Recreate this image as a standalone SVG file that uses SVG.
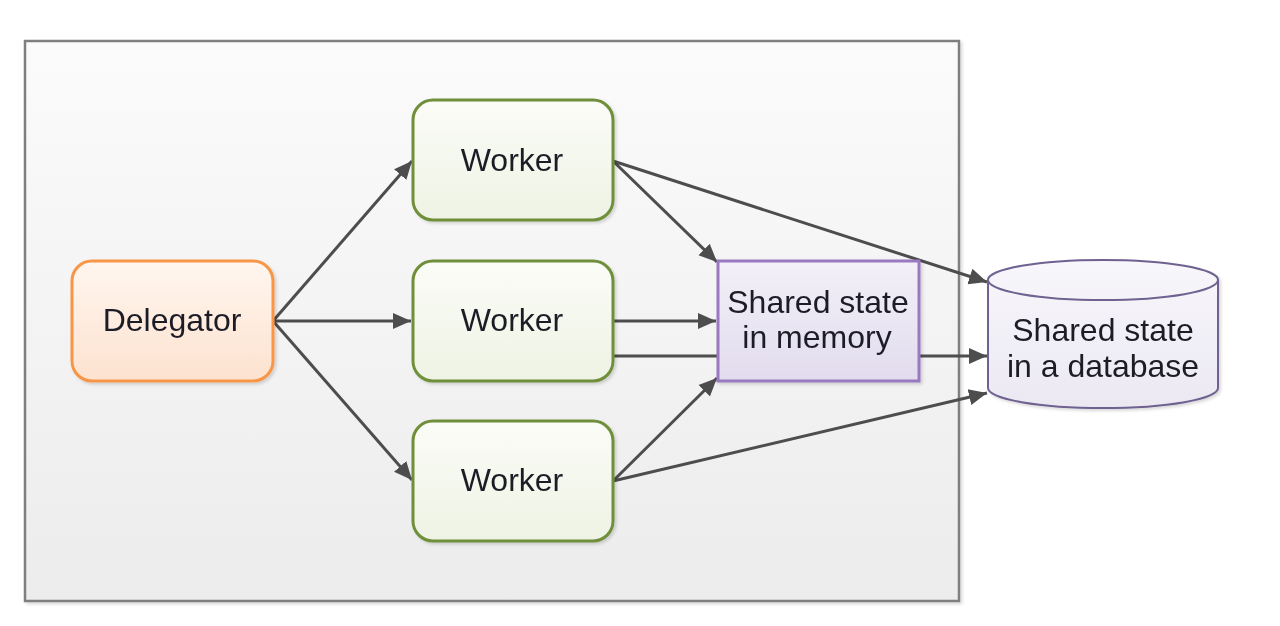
<svg xmlns="http://www.w3.org/2000/svg" width="1280" height="626" viewBox="0 0 1280 626">
<defs>
<linearGradient id="gBg" x1="0" y1="0" x2="0" y2="1"><stop offset="0" stop-color="#fbfbfb"/><stop offset="1" stop-color="#ececec"/></linearGradient>
<linearGradient id="gOr" x1="0" y1="0" x2="0" y2="1"><stop offset="0" stop-color="#fff6ef"/><stop offset="1" stop-color="#fde2cf"/></linearGradient>
<linearGradient id="gGr" x1="0" y1="0" x2="0" y2="1"><stop offset="0" stop-color="#fbfcf7"/><stop offset="1" stop-color="#eef3e4"/></linearGradient>
<linearGradient id="gPu" x1="0" y1="0" x2="0" y2="1"><stop offset="0" stop-color="#f3f0f8"/><stop offset="1" stop-color="#e2dcee"/></linearGradient>
<linearGradient id="gDb" x1="0" y1="0" x2="0" y2="1"><stop offset="0" stop-color="#f8f7fb"/><stop offset="1" stop-color="#ebe8f2"/></linearGradient>
<filter id="sh" x="-10%" y="-10%" width="130%" height="130%"><feDropShadow dx="2" dy="2" stdDeviation="1.5" flood-color="#000" flood-opacity="0.15"/></filter>
<marker id="ah" viewBox="0 0 10 10" refX="10" refY="5" markerWidth="6" markerHeight="6" markerUnits="strokeWidth" orient="auto"><path d="M0,0.5 L10,5 L0,9.5 z" fill="#4d4d4d"/></marker>
</defs>
<style>
.t{font-family:"Liberation Sans",Arial,sans-serif;font-size:32px;fill:#1e1e28;text-anchor:middle}
.c{stroke:#4d4d4d;stroke-width:3;fill:none}
.a{marker-end:url(#ah)}
.wk{fill:url(#gGr);stroke:#6f8f3a;stroke-width:3}
</style>
<rect id="frame" x="25" y="41" width="934" height="560" fill="url(#gBg)" stroke="#7f7f7f" stroke-width="2.5" filter="url(#sh)"/>
<g id="connectors">
<line class="c a" x1="273" y1="321" x2="412" y2="161"/>
<line class="c a" x1="273" y1="321" x2="411" y2="321"/>
<line class="c a" x1="273" y1="321" x2="412" y2="480"/>
<line class="c a" x1="613" y1="161" x2="717" y2="262"/>
<line class="c a" x1="613" y1="161" x2="987" y2="282"/>
<line class="c a" x1="613" y1="321" x2="716" y2="321"/>
<line class="c a" x1="613" y1="356" x2="987" y2="356"/>
<line class="c a" x1="613" y1="481" x2="717" y2="378"/>
<line class="c a" x1="613" y1="481" x2="987" y2="393"/>
</g>
<g id="delegator" filter="url(#sh)">
<rect x="72" y="261" width="201" height="120" rx="20" fill="url(#gOr)" stroke="#f79646" stroke-width="3"/>
<text class="t" x="172" y="331">Delegator</text>
</g>
<g id="worker1" filter="url(#sh)">
<rect class="wk" x="413" y="100" width="200" height="120" rx="20"/>
<text class="t" x="512" y="171">Worker</text>
</g>
<g id="worker2" filter="url(#sh)">
<rect class="wk" x="413" y="261" width="200" height="120" rx="20"/>
<text class="t" x="512" y="331">Worker</text>
</g>
<g id="worker3" filter="url(#sh)">
<rect class="wk" x="413" y="421" width="200" height="120" rx="20"/>
<text class="t" x="512" y="491">Worker</text>
</g>
<g id="memory" filter="url(#sh)">
<rect x="718" y="261" width="201" height="120" fill="url(#gPu)" stroke="#9979c0" stroke-width="3"/>
<text class="t" x="818" y="313">Shared state</text>
<text class="t" x="817" y="348">in memory</text>
</g>
<g id="database" filter="url(#sh)">
<path d="M988,280 L988,388 A115,20 0 0 0 1218,388 L1218,280 A115,20 0 0 0 988,280 Z" fill="url(#gDb)" stroke="#6f6290" stroke-width="2"/>
<path d="M988,280 A115,20 0 0 0 1218,280" fill="none" stroke="#6f6290" stroke-width="2"/>
<text class="t" x="1103" y="341">Shared state</text>
<text class="t" x="1103" y="377">in a database</text>
</g>
</svg>
